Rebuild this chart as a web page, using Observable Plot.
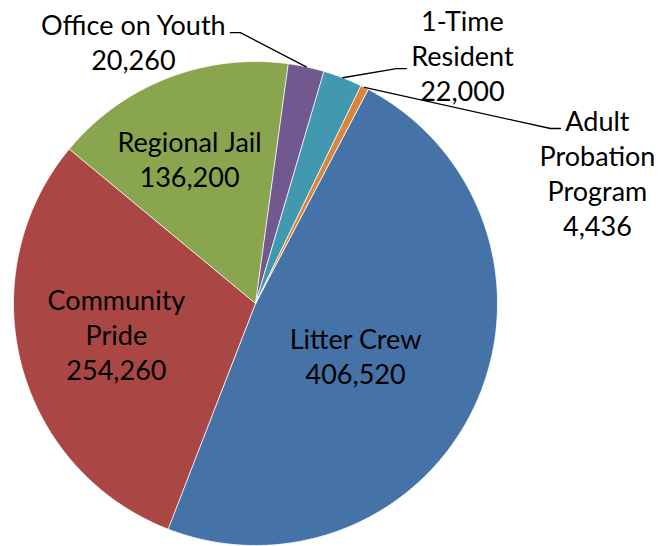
<!DOCTYPE html>
<html><head><meta charset="utf-8">
<script src="https://cdn.jsdelivr.net/npm/d3@7"></script>
<script src="https://cdn.jsdelivr.net/npm/@observablehq/plot@0.6"></script>
<style>body{margin:0;background:#fff}</style>
</head><body><div id="chart"></div>
<script>
// ---- data ----
const categories = ["Litter Crew","Community Pride","Regional Jail","Office on Youth","1-Time Resident","Adult Probation Program"];
const values = [406520, 254260, 136200, 20260, 22000, 4436];
const labelNames = ["Litter Crew","Community\nPride","Regional Jail","Office on Youth","1-Time\nResident","Adult\nProbation\nProgram"];
const colors = ["#4572A7","#AA4643","#89A54E","#71588F","#4198AF","#DB843D"];

// ---- layout ----
const W = 659, H = 546, CX = 255, CY = 303, R = 242, START = 27.7;
// label placement: radius (fraction of pie radius) and angle offset (deg) from slice middle
const labelPlace = [
  {r: 0.466, da: 3.0},
  {r: 0.588, da: 2.4},
  {r: 0.660, da: -3.1},
  {r: 1.194, da: -37.1},
  {r: 1.338, da: 18.6},
  {r: 1.513, da: 42.3}
];
// leader lines for outside labels: end point (polar) and elbow side
const leaderPlace = [null, null, null,
  {r: 1.124, da: -17.4, side: 1},
  {r: 1.154, da: 11.6, side: -1},
  {r: 1.453, da: 33.4, side: -1}
];
const ELBOW = 10 / R;

const rad = d => d * Math.PI / 180;
const polar = (r, a) => ({x: r * Math.sin(rad(a)), y: r * Math.cos(rad(a))});

const total = d3.sum(values);
let acc = START;
const slices = categories.map((c, i) => {
  const span = values[i] / total * 360;
  const s = {cat: c, a0: acc, a1: acc + span, mid: acc + span / 2, i};
  acc += span;
  return s;
});

// slice polygons
const polyPts = [];
for (const s of slices) {
  polyPts.push({cat: s.cat, x: 0, y: 0});
  const n = Math.max(2, Math.ceil((s.a1 - s.a0) / 0.4));
  for (let k = 0; k <= n; k++) {
    const p = polar(1, s.a0 + (s.a1 - s.a0) * k / n);
    polyPts.push({cat: s.cat, x: p.x, y: p.y});
  }
}

// labels
const fmt = d3.format(",");
const labels = slices.map(s => {
  const p = polar(labelPlace[s.i].r, s.mid + labelPlace[s.i].da);
  return {x: p.x, y: p.y, text: labelNames[s.i] + "\n" + fmt(values[s.i])};
});

// leader lines
const leaderPts = [];
for (const s of slices) {
  const L = leaderPlace[s.i];
  if (!L) continue;
  const e = polar(L.r, s.mid + L.da);
  const a = polar(1, s.mid);
  leaderPts.push({cat: s.cat, x: e.x, y: e.y});
  leaderPts.push({cat: s.cat, x: e.x + L.side * ELBOW, y: e.y});
  leaderPts.push({cat: s.cat, x: a.x, y: a.y});
}

const chart = Plot.plot({
  width: W, height: H,
  margin: 0,
  x: {domain: [-1, 1], range: [CX - R, CX + R], axis: null},
  y: {domain: [-1, 1], range: [CY + R, CY - R], axis: null},
  color: {domain: categories, range: colors},
  style: {background: "#fff"},
  marks: [
    Plot.line(polyPts, {x: "x", y: "y", z: "cat", fill: "cat", stroke: "#fff", strokeWidth: 0.8, curve: "linear-closed"}),
    Plot.line(leaderPts, {x: "x", y: "y", z: "cat", stroke: "#000", strokeWidth: 1.3}),
    Plot.text(labels, {x: "x", y: "y", text: "text", fontSize: 27, fontFamily: "Lato", lineHeight: 1.3, lineAnchor: "middle", fill: "#000"})
  ]
});
document.getElementById("chart").appendChild(chart);
</script>
</body></html>
